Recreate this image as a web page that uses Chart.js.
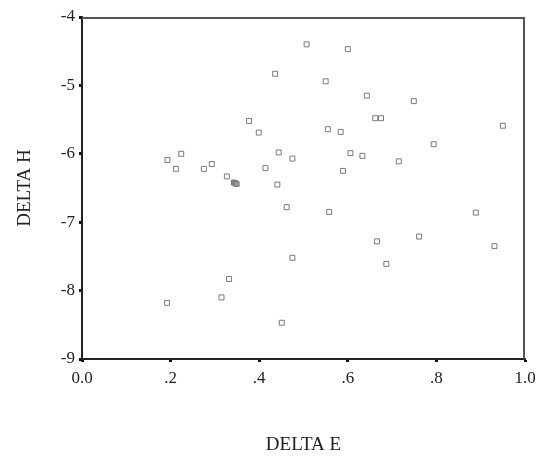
<!DOCTYPE html>
<html>
<head>
<meta charset="utf-8">
<script src="https://cdn.jsdelivr.net/npm/chart.js@4/dist/chart.umd.min.js"></script>
<style>
html,body{margin:0;padding:0;background:#fff;}
#wrap{width:552px;height:458px;}
</style>
</head>
<body>
<div id="wrap"><canvas id="c" width="552" height="458"></canvas></div>
<script>
const deltaE = [0.436,0.377,0.399,0.193,0.224,0.212,0.275,0.293,0.327,0.414,0.444,0.441,0.507,0.600,0.550,0.643,0.749,0.662,0.675,0.950,0.555,0.584,0.794,0.475,0.606,0.633,0.715,0.589,0.462,0.558,0.889,0.666,0.761,0.931,0.475,0.687,0.451,0.192,0.315,0.332];
const deltaH = [-4.83,-5.52,-5.69,-6.09,-6.00,-6.22,-6.22,-6.15,-6.33,-6.21,-5.98,-6.45,-4.40,-4.47,-4.94,-5.15,-5.23,-5.48,-5.48,-5.59,-5.64,-5.68,-5.86,-6.07,-5.99,-6.03,-6.11,-6.25,-6.78,-6.85,-6.86,-7.28,-7.21,-7.35,-7.52,-7.61,-8.47,-8.18,-8.10,-7.83];
const clusterE = [0.343,0.346,0.349];
const clusterH = [-6.42,-6.43,-6.44];
const xTicks = [0,0.2,0.4,0.6,0.8,1.0];
const xTickLabels = ['0.0','.2','.4','.6','.8','1.0'];
const yTicks = [-9,-8,-7,-6,-5,-4];

const pts = deltaE.map((x,i)=>({x:x,y:deltaH[i]}));
const cpts = clusterE.map((x,i)=>({x:x,y:clusterH[i]}));

const frame = {
  id:'frame',
  afterDatasetsDraw(chart){
    const a = chart.chartArea, ctx = chart.ctx;
    ctx.save();
    ctx.strokeStyle = '#555';
    ctx.lineWidth = 2;
    ctx.beginPath();
    ctx.moveTo(a.left, a.top+1);
    ctx.lineTo(a.right-1, a.top+1);
    ctx.lineTo(a.right-1, a.bottom);
    ctx.stroke();
    ctx.restore();
  }
};

const font = {family:'"Liberation Serif","Times New Roman",serif', size:17};
const titleFont = {family:'"Liberation Serif","Times New Roman",serif', size:19};

new Chart(document.getElementById('c'), {
  type:'scatter',
  data:{datasets:[
    {data:pts, pointStyle:'rect', pointRadius:3.5, borderColor:'#7a7a7a', backgroundColor:'rgba(0,0,0,0)', borderWidth:1},
    {data:cpts, pointStyle:'rect', pointRadius:3.5, borderColor:'#777', backgroundColor:'#999', borderWidth:1}
  ]},
  options:{
    responsive:false, animation:false,
    layout:{padding:{left:0,top:17,right:27,bottom:0}},
    plugins:{legend:{display:false}, tooltip:{enabled:false}},
    scales:{
      x:{
        type:'linear', min:0, max:1,
        afterBuildTicks(ax){ ax.ticks = xTicks.map(v=>({value:v})); },
        afterFit(ax){ ax.height = 99; },
        ticks:{color:'#222', font:font, padding:6, maxRotation:0,
          callback:(v)=>{const i=xTicks.findIndex(t=>Math.abs(t-v)<1e-9); return i>=0?xTickLabels[i]:'';}},
        grid:{drawOnChartArea:false, tickLength:3, tickWidth:3, tickColor:'#111'},
        border:{color:'#222', width:2},
        title:{display:true, text:'DELTA E', color:'#222', font:titleFont, padding:{top:0,bottom:2}}
      },
      y:{
        type:'linear', min:-9, max:-4,
        afterBuildTicks(ax){ ax.ticks = yTicks.map(v=>({value:v})); },
        afterFit(ax){ ax.width = 82; },
        ticks:{color:'#222', font:font, padding:4},
        grid:{drawOnChartArea:false, tickLength:3, tickWidth:3, tickColor:'#111'},
        border:{color:'#222', width:2},
        title:{display:true, text:'DELTA H', color:'#222', font:titleFont, padding:{top:14,bottom:0}}
      }
    }
  },
  plugins:[frame]
});
</script>
</body>
</html>
